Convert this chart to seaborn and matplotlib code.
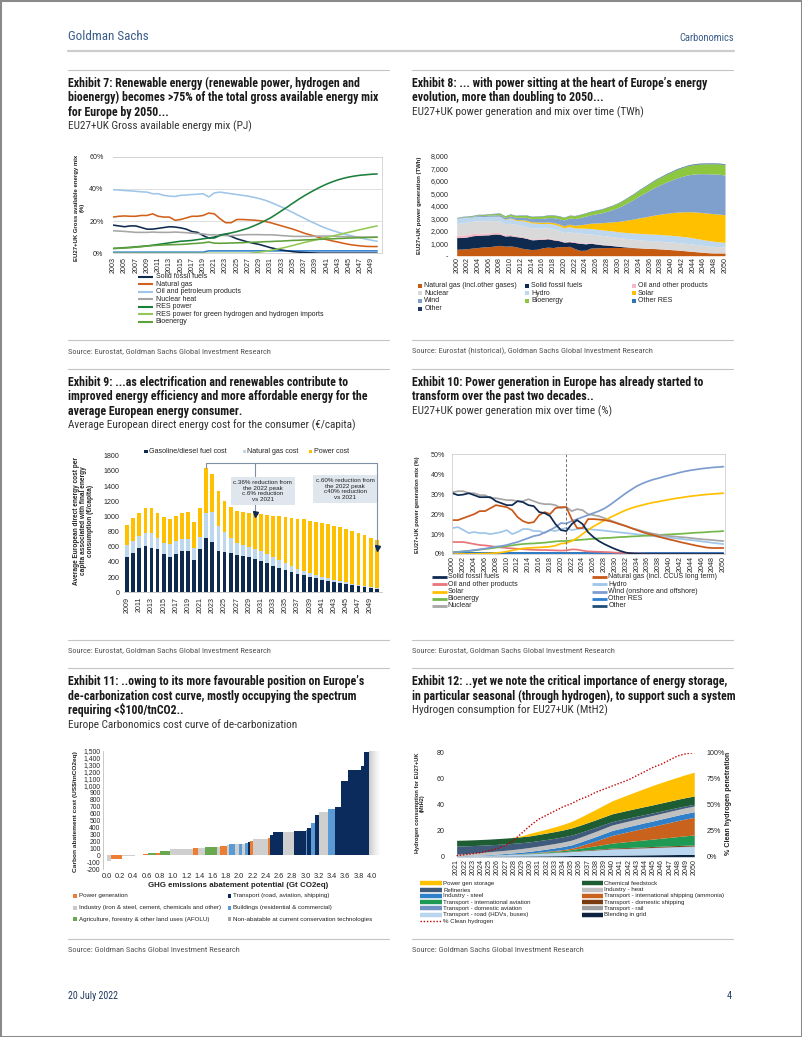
import numpy as np
import pandas as pd
import matplotlib
matplotlib.use("Agg")
import matplotlib.pyplot as plt
import seaborn as sns
from matplotlib.lines import Line2D
from matplotlib.patches import Rectangle
from matplotlib import font_manager as fm

# ======================= DATA =======================
# Exhibit 7 - gross available energy mix (%)
years7 = list(range(2003, 2051))
solid7 = [17.5,17.0,16.5,17.0,17.0,16.0,15.0,15.0,15.5,16.0, 16.5,16.3,15.8,15.0,13.5,13.0,11.0,9.5,10.0,11.5,
          11.8,10.5,9.0,8.0,7.0,6.2,5.5,4.5,3.5,2.7, 2.0,1.5,1.0,0.7,0.5,0.3,0.2,0.1,0.1,0.1, 0.1,0.1,0.1,0.1,0.1,0.1,0.1,0.1]
gas7 = [22.5,23.0,23.2,23.0,23.0,23.5,23.5,24.5,23.0,22.5, 22.5,20.5,21.0,22.0,23.0,23.0,23.5,25.0,24.5,21.5,
        19.0,19.0,21.0,21.0,20.8,20.6,20.3,19.8,19.0,18.0, 17.0,16.0,15.0,13.8,12.5,11.5,10.5,9.5,8.5,7.7, 7.0,6.2,5.5,5.0,4.6,4.3,4.2,4.2]
oil7 = [39.5,39.3,39.0,38.8,38.5,38.2,38.0,37.0,37.0,36.0, 35.5,35.3,36.0,36.2,36.5,36.7,37.0,35.0,37.5,38.0,
        37.5,37.0,36.5,36.0,35.5,34.8,34.0,33.0,31.7,30.2, 28.7,27.0,25.3,23.5,21.8,20.0,18.4,16.8,15.4,14.2, 13.1,12.1,11.2,10.4,9.6,8.8,8.1,7.5]
nuclear7 = [14.0,13.8,13.6,13.3,13.0,13.0,13.0,13.2,13.0,13.0, 13.0,13.2,13.0,12.8,12.5,12.3,12.0,11.5,11.5,11.2,
            11.0,11.0,11.2,11.5,11.6,11.6,11.6,11.5,11.5,11.3, 11.0,10.8,10.5,10.5,10.5,10.5,10.6,10.7,10.7,10.6, 10.5,10.4,10.3,10.2,10.1,10.0,10.0,10.0]
res7 = [3.0,3.2,3.5,3.7,4.0,4.3,4.6,5.0,5.5,6.0, 6.5,7.0,7.5,7.7,8.0,8.5,9.0,9.5,9.5,11.0,
        12.0,12.7,13.5,14.5,15.6,17.0,18.5,20.2,22.0,24.2, 26.5,28.8,31.2,33.5,35.7,37.7,39.6,41.4,43.0,44.4, 45.6,46.6,47.4,48.0,48.5,48.8,49.1,49.3]
resh2_7 = [0,0,0,0,0,0,0,0,0,0, 0,0,0,0,0,0,0,0,0,0,
           0,0,0,0,0,0.3,0.7,1.2,1.8,2.5, 3.2,4.0,4.9,5.8,6.7,7.5,8.3,9.1,9.9,10.7, 11.5,12.3,13.1,13.9,14.7,15.5,16.3,17.0]
bio7 = [3.0,3.1,3.3,3.5,3.8,4.1,4.5,4.8,5.0,5.2, 5.3,5.4,5.5,5.7,6.0,6.2,6.5,7.0,6.3,6.2,
        6.3,6.4,6.5,6.6,6.8,6.9,7.0,7.2,7.3,7.5, 7.6,7.8,8.0,8.1,8.3,8.4,8.6,8.7,8.9,9.0, 9.2,9.3,9.5,9.6,9.7,9.8,9.9,10.0]
other7 = [0.7,0.7,0.7,0.7,0.7,0.7,0.7,0.7,0.7,0.7, 0.7,0.7,0.7,0.7,0.7,0.7,0.7,1.5,1.5,1.5,
          1.5,1.5,1.5,1.5,1.5,1.5,1.5,1.5,1.5,1.5, 1.5,1.5,1.5,1.5,1.5,1.5,1.5,1.5,1.5,1.5, 1.5,1.5,1.5,1.5,1.5,1.5,1.5,1.5]
labels7 = ["Solid fossil fuels", "Natural gas", "Oil and petroleum products", "Nuclear heat", "RES power",
           "RES power for green hydrogen and hydrogen imports", "Bioenergy"]

# Exhibit 10 - power generation mix (%), also used for Exhibit 8 (TWh = share x total)
years10 = list(range(2000, 2051))
solid10 = [30.5,29.5,29.8,30.5,29.5,28.5,28.5,28.5,26.5,25.5, 24.5,24.5,26.5,26.0,24.5,24.0,21.0,20.5,19.0,15.0,
           12.0,11.5,15.0,17.0,15.0,11.0,8.5,6.5,5.0,3.7, 2.5,1.5,0.7,0.3,0.1,0,0,0,0,0, 0,0,0,0,0,0,0,0,0,0,0]
gas10 = [17,17,18,19,20,21.5,21.5,23,24.5,24, 23.5,22,18.5,16.5,15.5,16,19.5,21,20,23,
         23.5,23.5,17.5,13,13,17.5,17.5,17.3,17.0,16.5, 15.7,14.8,14.0,13.0,12.0,11.0,10.2,9.5,8.7,8.0, 7.3,6.7,6.0,5.4,4.8,4.2,3.7,3.2,3.0,3.0,3.0]
oil10 = [6,6,6,5.5,5.0,4.5,4.3,4.0,3.5,3.3, 3.0,2.8,2.6,2.4,2.2,2.1,2.0,2.0,1.9,1.8,
         1.7,1.8,2.3,2.2,1.7,1.3,1.2,1.1,1.0,0.9, 0.7,0.6,0.5,0.4,0.3,0.2,0.1,0.1,0.1,0.1, 0.1,0.1,0.1,0.1,0.1,0.1,0.1,0.1,0.1,0.1,0.1]
hydro10 = [13,13.5,12,10.5,11,10.5,10.5,10,10.5,11, 12,10,11,12.5,12.5,11.5,11.5,10.5,12,11.5,
           12.5,13,12,12.5,12.8,12.5,12.2,12.0,11.7,11.4, 11.1,10.8,10.5,10.2,9.9,9.6,9.3,9.0,8.7,8.5, 8.2,7.9,7.6,7.3,7.0,6.7,6.3,6.0,5.6,5.3,5.0]
solar10 = [0,0,0,0,0,0.1,0.2,0.3,0.5,0.8, 1.2,1.8,2.3,2.8,3.0,3.2,3.3,3.5,3.7,4.2,
           5.2,5.5,6.5,8.0,10.0,12.0,13.8,15.3,16.8,18.2, 19.5,20.8,22.0,23.0,23.8,24.5,25.2,25.8,26.3,26.8, 27.3,27.8,28.2,28.6,29.0,29.3,29.6,29.9,30.1,30.3,30.5]
wind10 = [0.7,1.0,1.3,1.6,2.0,2.3,2.7,3.2,3.7,4.0, 4.5,5.3,6.0,7.0,8.0,9.0,9.5,10.8,12.0,13.5,
          15.5,15.3,16.5,17.5,18.5,19.5,20.5,21.5,22.8,24.5, 26.5,28.5,30.5,32.3,34.0,35.3,36.4,37.3,38.0,38.8, 39.5,40.2,40.9,41.5,42.0,42.4,42.8,43.1,43.4,43.6,43.8]
bio10 = [1.0,1.1,1.3,1.5,1.8,2.2,2.5,2.8,3.2,3.6, 4.0,4.3,4.7,5.0,5.2,5.3,5.5,5.7,6.0,6.3,
         6.5,6.5,6.8,7.0,7.2,7.4,7.6,7.8,8.0,8.1, 8.3,8.5,8.6,8.8,8.9,9.1,9.2,9.4,9.5,9.7, 9.8,10.0,10.1,10.3,10.5,10.7,10.8,11.0,11.2,11.3,11.5]
nuclear10 = [31,31.5,31.5,30.5,30.5,29.5,29.5,28,28,27.5, 27,27,26.5,26.5,27.5,26.5,25.5,25,25,24.5,
             23,23.5,21.5,22.5,22.0,20.0,19.5,19.0,18.0,17.0, 16.0,15.0,14.0,13.0,12.3,11.5,10.8,10.2,9.7,9.3, 9.0,8.8,8.5,8.3,8.0,7.7,7.4,7.2,7.0,6.7,6.5]
otherres10 = [0.6] * 51
other10 = [0.3] * 51
labels10 = ["Solid fossil fuels", "Natural gas (incl. CCUS long term)", "Oil and other products", "Hydro",
            "Solar", "Wind (onshore and offshore)", "Bioenergy", "Other RES", "Nuclear", "Other"]

# Exhibit 8 - total generation (TWh)
total8 = [3050,3130,3150,3230,3290,3310,3340,3370,3380,3180, 3330,3280,3290,3270,3180,3230,3240,3270,3250,3180,
          3060,3200,3250,3300,3400,3500,3600,3700,3850,4000, 4180,4400,4650,4900,5180,5450,5720,5980,6220,6430,
          6620,6800,6950,7080,7180,7250,7300,7320,7330,7320,7250]
labels8 = ["Natural gas (incl.other gases)", "Solid fossil fuels", "Oil and other products", "Nuclear", "Hydro",
           "Solar", "Wind", "Bioenergy", "Other RES", "Other"]

# Exhibit 9 - consumer energy cost (EUR/capita)
years9 = list(range(2009, 2051))
fuel9 = [470,520,590,610,590,570,500,470,510,545, 550,420,570,720,660,550,535,520,490,475,
         460,440,410,380,350,320,295,270,245,225, 205,185,165,150,135,120,110,100,85,70, 60,50]
gascost9 = [150,160,150,170,190,150,150,170,160,155, 150,160,160,330,400,330,255,200,160,145,
            135,135,130,120,110,100,85,70,65,60, 50,45,40,35,30,25,20,15,15,15, 10,10]
power9 = [270,300,310,330,330,320,340,320,330,345, 355,340,380,590,500,450,410,400,420,440,
          455,465,490,520,550,580,610,640,660,675, 690,700,710,715,715,715,710,695,680,665, 650,630]
labels9 = ["Gasoline/diesel fuel cost", "Natural gas cost", "Power cost"]
ann9_years = [2022, 2030, 2050]
ann9_levels = [1700, 1030, 590]
ann9_box1 = "c.36% reduction from\nthe 2022 peak\nc.6% reduction\nvs 2021"
ann9_box2 = "c.60% reduction from\nthe 2022 peak\nc40% reduction\nvs 2021"
ann9_box_pos = [(2031.3, 1335), (2044.8, 1360)]

# Exhibit 11 - cost curve
width11 = [0.07,0.16,0.20,0.12,0.08,0.12,0.05,0.16,0.32,0.03, 0.07,0.10,0.18,0.05,0.10,0.03,0.10,0.05,0.05,0.05,
           0.05,0.03,0.04,0.22,0.03,0.05,0.15,0.17,0.18,0.02, 0.05,0.06,0.06,0.14,0.10,0.10,0.10,0.20,0.05,0.07, 0.17]
cost11 = [-80,-45,-15,5,20,30,40,60,85,95, 110,110,120,125,140,145,160,160,170,170,
          180,190,200,230,250,290,330,335,350,360, 390,470,580,625,660,690,1070,1230,1290,1490, 1500]
cat11 = ["I","P","I","I","P","A","P","A","I","I", "P","I","A","I","P","I","B","I","B","I",
         "B","T","P","I","P","T","T","I","T","B", "T","B","T","I","B","T","T","T","T","T", "N"]
labels11 = {"P": "Power generation", "T": "Transport (road, aviation, shipping)",
            "I": "Industry (iron & steel, cement, chemicals and other)", "B": "Buildings (residential & commercial)",
            "A": "Agriculture, forestry & other land uses (AFOLU)", "N": "Non-abatable at current conservation technologies"}

# Exhibit 12 - hydrogen consumption (MtH2)
years12 = list(range(2021, 2051))
blend12 = [0.35,0.37,0.40,0.42,0.45,0.48,0.51,0.54,0.57,0.60, 0.65,0.70,0.75,0.80,0.90,0.96,1.02,1.08,1.14,1.20,
           1.26,1.32,1.38,1.44,1.50,1.56,1.62,1.68,1.74,1.80]
road12 = [0.30,0.40,0.50,0.65,0.80,0.95,1.10,1.30,1.50,1.70, 1.95,2.20,2.45,2.70,3.00,3.30,3.60,3.90,4.20,4.50,
          4.65,4.80,4.95,5.10,5.30,5.45,5.60,5.75,5.90,6.00]
rail12 = [0,0,0,0,0,0,0,0,0,0, 0.01,0.02,0.03,0.04,0.05,0.07,0.09,0.11,0.13,0.15, 0.16,0.17,0.17,0.18,0.18,0.19,0.19,0.20,0.20,0.20]
domav12 = [0,0,0,0,0,0,0,0,0,0, 0.01,0.02,0.03,0.04,0.05,0.08,0.11,0.14,0.17,0.20, 0.20,0.20,0.20,0.20,0.20,0.20,0.20,0.20,0.20,0.20]
domship12 = [0,0,0,0,0,0.02,0.04,0.06,0.08,0.10, 0.14,0.18,0.22,0.26,0.30,0.36,0.42,0.48,0.54,0.60,
             0.62,0.64,0.66,0.68,0.70,0.72,0.74,0.76,0.78,0.80]
intlav12 = [0,0,0,0,0,0.03,0.07,0.12,0.20,0.30, 0.42,0.56,0.72,0.92,1.2,1.7,2.2,2.7,3.25,3.8,
            4.2,4.6,5.0,5.35,5.7,6.1,6.5,6.9,7.3,7.7]
ship12 = [0,0,0,0,0,0.02,0.05,0.08,0.12,0.20, 0.30,0.42,0.56,0.76,1.0,1.8,2.8,3.8,4.9,6.0,
          6.8,7.6,8.4,9.2,9.9,10.7,11.5,12.3,13.0,13.6]
steel12 = [0.05,0.10,0.18,0.28,0.40,0.55,0.70,0.88,1.08,1.30, 1.55,1.80,2.05,2.30,2.60,2.85,3.10,3.35,3.60,3.80,
           3.86,3.92,3.98,4.04,4.10,4.14,4.18,4.22,4.26,4.30]
heat12 = [1.2,1.45,1.7,1.95,2.2,2.35,2.5,2.65,2.8,3.0, 3.12,3.24,3.36,3.48,3.6,3.72,3.84,3.96,4.08,4.2,
          4.22,4.24,4.26,4.28,4.30,4.32,4.34,4.36,4.38,4.40]
ref12 = [6.3,6.05,5.8,5.55,5.3,5.1,4.9,4.7,4.5,4.3, 4.22,4.14,4.06,3.98,3.9,3.64,3.38,3.12,2.86,2.6,
         2.46,2.32,2.18,2.04,1.9,1.78,1.66,1.54,1.42,1.3]
chem12 = [4.4,4.4,4.4,4.4,4.4,4.44,4.48,4.52,4.56,4.6, 4.78,4.96,5.14,5.32,5.5,5.6,5.7,5.8,5.9,6.0,
          6.04,6.08,6.12,6.16,6.2,6.24,6.28,6.32,6.36,6.4]
power12 = [0,0,0,0,0,0,0,0.15,0.8,2.0, 2.5,3.0,3.6,4.3,5.0,6.0,7.0,8.0,9.0,10.0,
           11.0,12.0,13.0,14.0,15.0,15.7,16.4,17.0,17.7,18.3]
clean12 = [1,2,3,4,6,8,11,16,23,30, 36,40,44,48,51,55,58,62,65,68, 71,74,78,82,86,89,93,97,99,100]
labels12 = ["Power gen storage", "Chemical feedstock", "Refineries", "Industry - heat", "Industry - steel",
            "Transport - international shipping (ammonia)", "Transport - international aviation",
            "Transport - domestic shipping", "Transport - domestic aviation", "Transport - rail",
            "Transport - road (HDVs, buses)", "Blending in grid", "% Clean hydrogen"]

# ======================= STYLE =======================
sns.set_theme(style="white")
_names = {f.name for f in fm.fontManager.ttflist}
def _pick(*c):
    for n in c:
        if n in _names:
            return n
    return "DejaVu Sans"
COND = _pick("Roboto Condensed", "Liberation Sans Narrow", "DejaVu Sans")
SANS = _pick("Liberation Sans", "Arimo", "DejaVu Sans")
plt.rcParams["font.family"] = [SANS, "DejaVu Sans"]
plt.rcParams["axes.unicode_minus"] = False

W, H = 802, 1037
fig = plt.figure(figsize=(W / 100, H / 100), dpi=100)
fig.patch.set_facecolor("white")
R = fig.canvas.get_renderer()
TXT = "#222222"
GSB = "#3a5d8a"

def fx(x): return x / W
def fy(y): return 1 - y / H
def add_ax(l, t, r, b): return fig.add_axes([l / W, 1 - b / H, (r - l) / W, (b - t) / H])

def fit(s, width, family, weight="normal"):
    t = fig.text(0, 0, s, fontsize=10, family=[family, "DejaVu Sans"], weight=weight)
    w = t.get_window_extent(renderer=R).width
    t.remove()
    return 10.0 * width / w

def ftext(x, y, s, size, family=None, weight="normal", color=TXT, ha="left", va="center", rot=0, **kw):
    fam = [family or SANS, "DejaVu Sans"]
    return fig.text(fx(x), fy(y), s, fontsize=size, family=fam, weight=weight, color=color,
                    ha=ha, va=va, rotation=rot, **kw)

def hline(x0, x1, y, color="#c4c4c4", lw=0.8):
    fig.add_artist(Line2D([fx(x0), fx(x1)], [fy(y), fy(y)], transform=fig.transFigure, color=color, lw=lw))

def leg_line(x0, x1, xt, y, label, color, size, lw=1.5, ls="-"):
    fig.add_artist(Line2D([fx(x0), fx(x1)], [fy(y), fy(y)], transform=fig.transFigure, color=color,
                          lw=lw, ls=ls, solid_capstyle="butt"))
    ftext(xt, y, label, size)

def leg_sq(xc, xt, y, label, color, size, side=4.2):
    fig.add_artist(Rectangle((fx(xc - side / 2), fy(y + side / 2)), side / W, side / H,
                             transform=fig.transFigure, facecolor=color, lw=0))
    ftext(xt, y, label, size)

def tick_style(ax, size, xpad, ypad):
    ax.tick_params(axis="x", length=0, labelsize=size, pad=xpad, colors="#262626")
    ax.tick_params(axis="y", length=0, labelsize=size, pad=ypad, colors="#262626")
    ax.set_xlabel("")
    ax.set_ylabel("")

TICK = 5.1

# ======================= PAGE TEXT =======================
fig.add_artist(Rectangle((0, 0), 1, 1, transform=fig.transFigure, fill=False, ec="#8a8a8a", lw=2.2))
ftext(68, 36.7, "Goldman Sachs", fit("Goldman Sachs", 81, COND), COND, color=GSB)
ftext(734, 38.3, "Carbonomics", fit("Carbonomics", 55, COND), COND, color=GSB, ha="right")
hline(68, 734, 50.7, color="#cdcdcd", lw=1.6)

ex7_title = ["Exhibit 7: Renewable energy (renewable power, hydrogen and",
             "bioenergy) becomes >75% of the total gross available energy mix", "for Europe by 2050..."]
ex8_title = ["Exhibit 8: ... with power sitting at the heart of Europe\u2019s energy",
             "evolution, more than doubling to 2050..."]
ex9_title = ["Exhibit 9: ...as electrification and renewables contribute to",
             "improved energy efficiency and more affordable energy for the", "average European energy consumer."]
ex10_title = ["Exhibit 10: Power generation in Europe has already started to",
              "transform over the past two decades.."]
ex11_title = ["Exhibit 11: ..owing to its more favourable position on Europe\u2019s",
              "de-carbonization cost curve, mostly occupying the spectrum", "requiring <$100/tnCO2.."]
ex12_title = ["Exhibit 12: ..yet we note the critical importance of energy storage,",
              "in particular seasonal (through hydrogen), to support such a system"]
subs = ["EU27+UK Gross available energy mix (PJ)", "EU27+UK power generation and mix over time (TWh)",
        "Average European direct energy cost for the consumer (\u20ac/capita)",
        "EU27+UK power generation mix over time (%)", "Europe Carbonomics cost curve of de-carbonization",
        "Hydrogen consumption for EU27+UK (MtH2)"]
sources = ["Source: Eurostat, Goldman Sachs Global Investment Research",
           "Source: Eurostat (historical), Goldman Sachs Global Investment Research",
           "Source: Eurostat, Goldman Sachs Global Investment Research",
           "Source: Eurostat, Goldman Sachs Global Investment Research",
           "Source: Goldman Sachs Global Investment Research",
           "Source: Goldman Sachs Global Investment Research"]

tsize = float(np.median([fit(ex7_title[0], 296, COND, "bold"), fit(ex8_title[0], 290, COND, "bold"),
                         fit(ex9_title[0], 277, COND, "bold"), fit(ex10_title[0], 290, COND, "bold"),
                         fit(ex11_title[0], 308, COND, "bold"), fit(ex12_title[0], 319, COND, "bold")]))
ssize = float(np.median([fit(subs[0], 183, COND), fit(subs[1], 231, COND), fit(subs[2], 288, COND),
                         fit(subs[3], 186, COND), fit(subs[4], 230, COND), fit(subs[5], 193, COND)]))
srcsize = float(np.median([fit(sources[0], 203, COND), fit(sources[1], 240, COND), fit(sources[4], 172, COND)]))

blocks = [
    (68, 70, ex7_title, subs[0], 340, sources[0]),
    (412, 70, ex8_title, subs[1], 340, sources[1]),
    (68, 369, ex9_title, subs[2], 639.5, sources[2]),
    (412, 369, ex10_title, subs[3], 639.5, sources[3]),
    (68, 668.3, ex11_title, subs[4], 939, sources[4]),
    (412, 668.3, ex12_title, subs[5], 939, sources[5]),
]
for x0, ytop, title, sub, ysrc, src in blocks:
    hline(x0, x0 + 321, ytop)
    for i, line in enumerate(title):
        ftext(x0, ytop + 13.5 + 14.3 * i, line, tsize, COND, weight="bold", color="#1a1a1a")
    ftext(x0, ytop + 13.5 + 14.3 * len(title), sub, ssize, COND, color="#333333")
    hline(x0, x0 + 321, ysrc)
    ftext(x0, ysrc + 10.7, src, srcsize, COND, color="#555555")

fsize = fit("20 July 2022", 49.6, COND)
ftext(68, 995.7, "20 July 2022", fsize, COND, color="#1f3a5f")
ftext(731.5, 995.7, "4", fsize, COND, color="#1f3a5f", ha="right")

# ======================= EXHIBIT 7 =======================
pal7 = {"Other": "#2e7fd0", "Solid fossil fuels": "#0e2a4f", "Natural gas": "#d2601a",
        "Oil and petroleum products": "#9fc5e8", "Nuclear heat": "#a6a6a6", "RES power": "#1b7f3b",
        "RES power for green hydrogen and hydrogen imports": "#92c955", "Bioenergy": "#5ea03a"}
d7 = pd.DataFrame({"year": years7, "Other": other7, labels7[0]: solid7, labels7[1]: gas7, labels7[2]: oil7,
                   labels7[3]: nuclear7, labels7[4]: res7, labels7[5]: resh2_7, labels7[6]: bio7})
m7 = d7.melt("year", var_name="series", value_name="share")
ax7 = add_ax(113.3, 156.7, 381.7, 253.3)
sns.lineplot(data=m7, x="year", y="share", hue="series", hue_order=list(pal7.keys()), palette=pal7,
             ax=ax7, legend=False, linewidth=1.15)
ax7.set_xlim(2003, 2050.8)
ax7.set_ylim(0, 60)
ax7.set_yticks([0, 20, 40, 60])
ax7.set_yticklabels(["0%", "20%", "40%", "60%"])
ax7.set_xticks(years7[:-1:2])
ax7.set_xticklabels([str(y) for y in years7[:-1:2]], rotation=90)
ax7.yaxis.grid(True, color="#d9d9d9", lw=0.6)
ax7.set_axisbelow(True)
for s in ["top", "right", "bottom"]:
    ax7.spines[s].set_color("#d0d0d0"); ax7.spines[s].set_linewidth(0.6)
ax7.spines["left"].set_visible(False)
tick_style(ax7, TICK, 2.5, 7)
ftext(79.5, 207.5, "EU27+UK Gross available energy mix\n(%)",
      fit("EU27+UK Gross available energy mix", 108, SANS, "bold"), weight="bold", ha="center", rot=90,
      multialignment="center")
lsz7 = fit(labels7[5], 166, SANS)
for i, lab in enumerate(labels7):
    leg_line(138.3, 153.3, 155.7, 276.7 + 7.5 * i, lab, pal7[lab], lsz7, lw=1.5)

# ======================= EXHIBIT 8 =======================
cols8 = ["#c55a11", "#0e2a4f", "#f4b9c6", "#d9d9d9", "#bdd7ee", "#ffc000", "#7f9fcc", "#8dc63f", "#2e75b6", "#1f3864"]
shares8 = [gas10, solid10, oil10, nuclear10, hydro10, solar10, wind10, bio10, otherres10, other10]
gen8 = [np.array(s) / 100.0 * np.array(total8) for s in shares8]
ax8 = add_ax(456.7, 155.7, 725, 255.7)
ax8.stackplot(years10, *gen8, colors=cols8, linewidth=0)
ax8.set_xlim(2000, 2050)
ax8.set_ylim(0, 8000)
ax8.set_yticks(range(0, 8001, 1000))
ax8.set_yticklabels(["-"] + [f"{v:,}" for v in range(1000, 8001, 1000)])
ax8.set_xticks(years10[::2])
ax8.set_xticklabels([str(y) for y in years10[::2]], rotation=90)
for s in ax8.spines.values():
    s.set_visible(False)
tick_style(ax8, TICK, 1.2, 6)
ftext(420, 205.7, "EU27+UK power generation (TWh)", fit("EU27+UK power generation (TWh)", 97, SANS, "bold"),
      weight="bold", ha="center", rot=90)
lsz8 = fit(labels8[0], 91, SANS)
colx8 = [(420, 424.3), (526.7, 531), (634.3, 637.7)]
rowy8 = [285.7, 293.3, 301, 308.7]
for i, lab in enumerate(labels8):
    r, c = divmod(i, 3)
    leg_sq(colx8[c][0], colx8[c][1], rowy8[r], lab, cols8[i], lsz8, side=4)

# ======================= EXHIBIT 9 =======================
cols9 = ["#0e2a4f", "#bdd7ee", "#ffc000"]
d9 = pd.DataFrame({"year": years9, "fuel": fuel9, "gas": gascost9, "power": power9})
d9["lvl2"] = d9["fuel"] + d9["gas"]
d9["lvl3"] = d9["lvl2"] + d9["power"]
ax9 = add_ax(123.5, 455.7, 382.2, 592.3)
for col, c in [("lvl3", cols9[2]), ("lvl2", cols9[1]), ("fuel", cols9[0])]:
    sns.barplot(data=d9, x="year", y=col, color=c, saturation=1, width=0.62, ax=ax9, linewidth=0)
ax9.set_xlim(-0.6, 41.9)
ax9.set_ylim(0, 1800)
ax9.set_yticks(range(0, 1801, 200))
ax9.set_yticklabels([str(v) for v in range(0, 1801, 200)])
ax9.set_xticks(range(0, len(years9), 2))
ax9.set_xticklabels([str(y) for y in years9[::2]], rotation=90)
for s in ["top", "right", "left"]:
    ax9.spines[s].set_visible(False)
ax9.spines["bottom"].set_color("#bfbfbf"); ax9.spines["bottom"].set_linewidth(0.6)
tick_style(ax9, TICK, 3.2, 3)
i_peak, i_mid, i_end = [years9.index(y) for y in ann9_years]
acol = "#7f8fa6"
ax9.plot([i_peak, i_peak, i_end, i_end], [d9["lvl3"][i_peak], ann9_levels[0], ann9_levels[0], ann9_levels[2]],
         color=acol, lw=0.8, zorder=1)
ax9.plot([i_mid, i_mid], [ann9_levels[0], ann9_levels[1]], color=acol, lw=0.8, zorder=1)
ax9.plot([i_mid, i_end], [ann9_levels[1], ann9_levels[2]], ls="none", marker="v", ms=3.6, color="#0e2a4f", zorder=5)
bsz = fit("c.36% reduction from", 59, SANS)
for (yr, val), txt in zip(ann9_box_pos, [ann9_box1, ann9_box2]):
    ax9.text(yr - years9[0], val, txt, fontsize=bsz, ha="center", va="center", color="#222", linespacing=1.15,
             bbox=dict(boxstyle="square,pad=0.45", fc="#dfe6ee", ec="none"), zorder=6)
ftext(83.5, 521, "Average European direct energy cost per\ncapita associated with final energy\nconsumption (\u20ac/capita)",
      fit("Average European direct energy cost per", 128, SANS, "bold"), weight="bold", ha="center", rot=90,
      multialignment="center", linespacing=1.1)
lsz9 = fit(labels9[0], 77, SANS)
for (xc, xt), lab, c in zip([(146, 149.3), (244.3, 246.7), (310.7, 314)], labels9, cols9):
    leg_sq(xc, xt, 451.7, lab, c, lsz9, side=3.4)

# ======================= EXHIBIT 10 =======================
pal10 = {"Other": "#1f4e79", "Other RES": "#2e7fd0", "Oil and other products": "#e8757a",
         "Hydro": "#9fc5e8", "Bioenergy": "#74b84a", "Nuclear": "#a6a6a6", "Solar": "#ffc000",
         "Wind (onshore and offshore)": "#7d9dd0", "Natural gas (incl. CCUS long term)": "#c8581a",
         "Solid fossil fuels": "#0e2a4f"}
d10 = pd.DataFrame({"year": years10, "Solid fossil fuels": solid10, "Natural gas (incl. CCUS long term)": gas10,
                    "Oil and other products": oil10, "Hydro": hydro10, "Solar": solar10,
                    "Wind (onshore and offshore)": wind10, "Bioenergy": bio10, "Other RES": otherres10,
                    "Nuclear": nuclear10, "Other": other10})
m10 = d10.melt("year", var_name="series", value_name="share")
ax10 = add_ax(452.3, 454.3, 725, 554)
sns.lineplot(data=m10, x="year", y="share", hue="series", hue_order=list(pal10.keys()), palette=pal10,
             ax=ax10, legend=False, linewidth=1.25)
ax10.axvline(2021, color="#6f6f6f", lw=0.7, ls=(0, (3, 2)))
ax10.set_xlim(1999.95, 2050.3)
ax10.set_ylim(0, 50)
ax10.set_yticks(range(0, 51, 10))
ax10.set_yticklabels([f"{v}%" for v in range(0, 51, 10)])
ax10.set_xticks(years10[::2])
ax10.set_xticklabels([str(y) for y in years10[::2]], rotation=90)
for s in ax10.spines.values():
    s.set_color("#d0d0d0"); s.set_linewidth(0.6)
tick_style(ax10, TICK, 1.5, 5.3)
ftext(417.7, 504.5, "EU27+UK power generation mix (%)", fit("EU27+UK power generation mix (%)", 95, SANS, "bold"),
      weight="bold", ha="center", rot=90)
lsz10 = fit(labels10[1], 108, SANS)
rowy10 = [576.7, 584.3, 591.7, 598.7, 605.7]
for i, lab in enumerate(labels10):
    r, c = divmod(i, 2)
    if c == 0:
        leg_line(431.7, 446.7, 447.7, rowy10[r], lab, pal10[lab], lsz10, lw=2.0)
    else:
        leg_line(591.7, 607.3, 608.3, rowy10[r], lab, pal10[lab], lsz10, lw=2.0)

# ======================= EXHIBIT 11 =======================
col11 = {"P": "#ed7d31", "T": "#0b2b5c", "I": "#cfcfcf", "B": "#5b9bd5", "A": "#6aa84f", "N": "#a6a6a6"}
left11 = np.concatenate([[0.0], np.cumsum(width11)[:-1]])
ax11 = add_ax(103.3, 751, 382, 869.3)
bars = ax11.bar(left11, cost11, width=width11, align="edge", color=[col11[c] for c in cat11], linewidth=0)
for b, c in zip(bars, cat11):
    if c == "N":
        b.set_alpha(0.0)
        x0, w, h = b.get_x(), b.get_width(), b.get_height()
        grad = np.linspace(0.68, 1.0, 64)[None, :]
        im = ax11.imshow(grad, extent=[x0, x0 + w, 0, h], aspect="auto", cmap="Greys_r", vmin=0, vmax=1, zorder=2)
        im.set_clip_path(b)
ax11.set_xlim(-0.05, 4.155)
ax11.set_ylim(-200, 1500)
ax11.set_aspect("auto")
ax11.set_yticks(range(-200, 1501, 100))
ax11.set_yticklabels([f"{v:,}" for v in range(-200, 1501, 100)])
xt11 = np.round(np.arange(0, 4.01, 0.2), 1)
ax11.set_xticks(xt11)
ax11.set_xticklabels([f"{v:.1f}" for v in xt11])
for s in ["top", "right", "bottom"]:
    ax11.spines[s].set_visible(False)
ax11.spines["left"].set_color("#bfbfbf"); ax11.spines["left"].set_linewidth(0.6)
tick_style(ax11, 5.3, 2.5, 2)
ax11.tick_params(axis="y", labelsize=4.9)
ftext(75, 812, "Carbon abatement cost (US$/tnCO2eq)", fit("Carbon abatement cost (US$/tnCO2eq)", 120, SANS, "bold"),
      weight="bold", ha="center", rot=90)
ftext(238, 885.7, "GHG emissions abatement potential (Gt CO2eq)",
      fit("GHG emissions abatement potential (Gt CO2eq)", 180, SANS, "bold"), weight="bold", ha="center")
lsz11 = min(fit(labels11["N"], 150, SANS), fit(labels11["I"], 144, SANS))
order11 = [("P", "T"), ("I", "B"), ("A", "N")]
for r, (ca, cb) in enumerate(order11):
    y = [896, 908, 919.3][r]
    leg_sq(75, 79, y, labels11[ca], col11[ca] if ca != "I" else "#c8c8c8", lsz11, side=3.6)
    leg_sq(229.3, 232.7, y, labels11[cb], col11[cb], lsz11, side=3.6)

# ======================= EXHIBIT 12 =======================
stack12 = [blend12, road12, rail12, domav12, domship12, intlav12, ship12, steel12, heat12, ref12, chem12, power12]
cols12 = ["#0d2340", "#b9d6ee", "#a0a0a0", "#7093c3", "#7a3b10", "#1f9a55", "#c9621c", "#2f80c8",
          "#c0c0c0", "#3f5a7a", "#1e5c34", "#ffc000"]
ax12 = add_ax(451.7, 752.7, 696.7, 856.7)
ax12.stackplot(years12, *stack12, colors=cols12, linewidth=0)
ax12.set_xlim(2020.4, 2050.3)
ax12.set_ylim(0, 80)
ax12.set_yticks(range(0, 81, 20))
ax12.set_xticks(years12)
ax12.set_xticklabels([str(y) for y in years12], rotation=90)
ax12b = ax12.twinx()
sns.lineplot(x=years12, y=clean12, ax=ax12b, color="#c00000", linewidth=1.0, linestyle=(0, (1, 1.3)))
ax12b.set_ylim(0, 100)
ax12b.set_yticks(range(0, 101, 25))
ax12b.set_yticklabels([f"{v}%" for v in range(0, 101, 25)])
for a in (ax12, ax12b):
    for s in a.spines.values():
        s.set_visible(False)
tick_style(ax12, TICK, 2, 4.8)
tick_style(ax12b, TICK, 2, 7.2)
ftext(420, 803, "Hydrogen consumption for EU27+UK\n(MtH2)",
      fit("Hydrogen consumption for EU27+UK", 100, SANS, "bold"), weight="bold", ha="center", rot=90,
      multialignment="center", linespacing=1.05)
ftext(728, 803.5, "% Clean hydrogen penetration", fit("% Clean hydrogen penetration", 103, SANS, "bold"),
      weight="bold", ha="center", rot=90)
lsz12 = fit(labels12[5], 122, SANS)
rowy12 = [883.3, 890, 896, 902.3, 908.3, 914.7, 921]
leg_cols12 = dict(zip(labels12[:12], cols12[::-1]))
for i, lab in enumerate(labels12):
    r, c = divmod(i, 2)
    if lab == "% Clean hydrogen":
        leg_line(420, 441.7, 443.3, rowy12[r], lab, "#c00000", lsz12, lw=1.0, ls=(0, (1, 1.3)))
    elif c == 0:
        leg_line(420, 441.7, 443.3, rowy12[r], lab, leg_cols12[lab], lsz12, lw=3.2)
    else:
        leg_line(581.7, 603.3, 604.3, rowy12[r], lab, leg_cols12[lab], lsz12, lw=3.2)

fig.savefig("out.png", dpi=100, facecolor="white")
